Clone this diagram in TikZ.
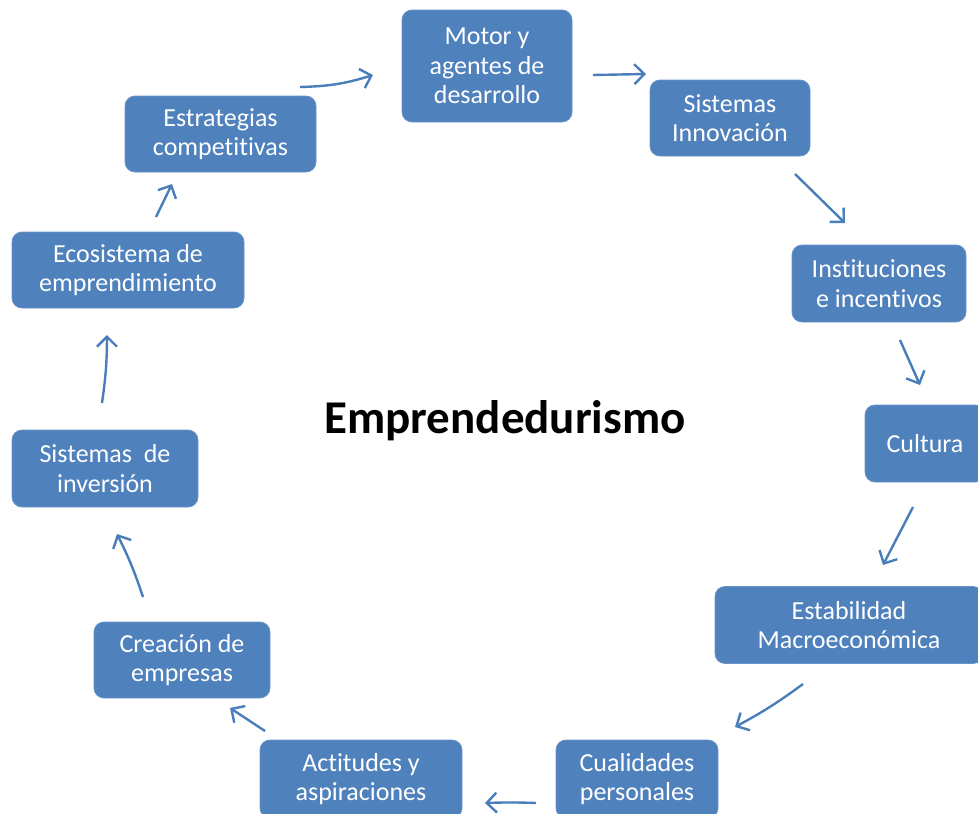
\documentclass[tikz,border=0pt]{standalone}
\usepackage{fontspec}
\setmainfont{Carlito}[Ligatures=NoCommon]
\usetikzlibrary{arrows.meta}
\definecolor{boxblue}{HTML}{4F81BD}
\definecolor{arrblue}{HTML}{4A7EBB}
\tikzset{
  box/.style={rectangle, rounded corners=10pt, fill=boxblue, draw=boxblue!85!white, line width=0.8pt,
    text=white, align=center, inner sep=0pt,
    font=\fontsize{26}{29.5}\selectfont},
  flow/.style={draw=arrblue, line width=2.4pt, -{Straight Barb[length=10pt,width=20pt,line width=2.4pt]}}
}
\begin{document}
\begin{tikzpicture}[x=1pt,y=-1pt]
\useasboundingbox (0,0) rectangle (978,814);
% boxes
\node[box, minimum width=170, minimum height=112] (motor) at (487,66) {Motor y\\agentes de\\desarrollo};
\node[box, minimum width=160, minimum height=76] (innov) at (730,118) {Sistemas\\Innovación};
\node[box, minimum width=174, minimum height=77] (inst) at (879,283.5) {Instituciones\\e incentivos};
\node[box, minimum width=120, minimum height=77] (cult) at (925,443.5) {Cultura};
\node[box, minimum width=268, minimum height=77] (estab) at (849,625) {Estabilidad\\Macroeconómica};
\node[box, minimum width=162, minimum height=78] (cual) at (637,779) {Cualidades\\personales};
\node[box, minimum width=202, minimum height=78] (act) at (361,779) {Actitudes y\\aspiraciones};
\node[box, minimum width=176, minimum height=76] (crea) at (182,660) {Creación de\\empresas};
\node[box, minimum width=186, minimum height=77] (sinv) at (105,468.5) {Sistemas\ \ de\\inversión};
\node[box, minimum width=232, minimum height=76] (eco) at (128,270) {Ecosistema de\\emprendimiento};
\node[box, minimum width=191, minimum height=76] (estr) at (220.5,134) {Estrategias\\competitivas};
% title
\node[font=\fontsize{47}{56}\selectfont\bfseries, anchor=base, inner sep=0pt] (title) at (505,433) {Emprendedurismo};
% arrow end points
\coordinate (a1s) at (300,87);  \coordinate (a1e) at (373,75);
\coordinate (a2s) at (593,75);  \coordinate (a2e) at (646,74);
\coordinate (a3s) at (795,174); \coordinate (a3e) at (845,223);
\coordinate (a4s) at (900,340); \coordinate (a4e) at (920,385);
\coordinate (a5s) at (913,507); \coordinate (a5e) at (883,565);
\coordinate (a6s) at (803,684); \coordinate (a6e) at (735,727);
\coordinate (a7s) at (536,803); \coordinate (a7e) at (485,803);
\coordinate (a8s) at (265,731); \coordinate (a8e) at (230,708);
\coordinate (a9s) at (143,597); \coordinate (a9e) at (117,534);
\coordinate (a10s) at (102,403); \coordinate (a10e) at (107,335);
\coordinate (a11s) at (156,217); \coordinate (a11e) at (172,184);
% arrows
\draw[flow] (a1s) to[bend right=8] (a1e);
\draw[flow] (a2s) -- (a2e);
\draw[flow] (a3s) -- (a3e);
\draw[flow] (a4s) -- (a4e);
\draw[flow] (a5s) -- (a5e);
\draw[flow] (a6s) to[bend left=4] (a6e);
\draw[flow] (a7s) to[bend right=2] (a7e);
\draw[flow] (a8s) -- (a8e);
\draw[flow] (a9s) to[bend right=4] (a9e);
\draw[flow] (a10s) to[bend right=4] (a10e);
\draw[flow] (a11s) -- (a11e);
\end{tikzpicture}
\end{document}
